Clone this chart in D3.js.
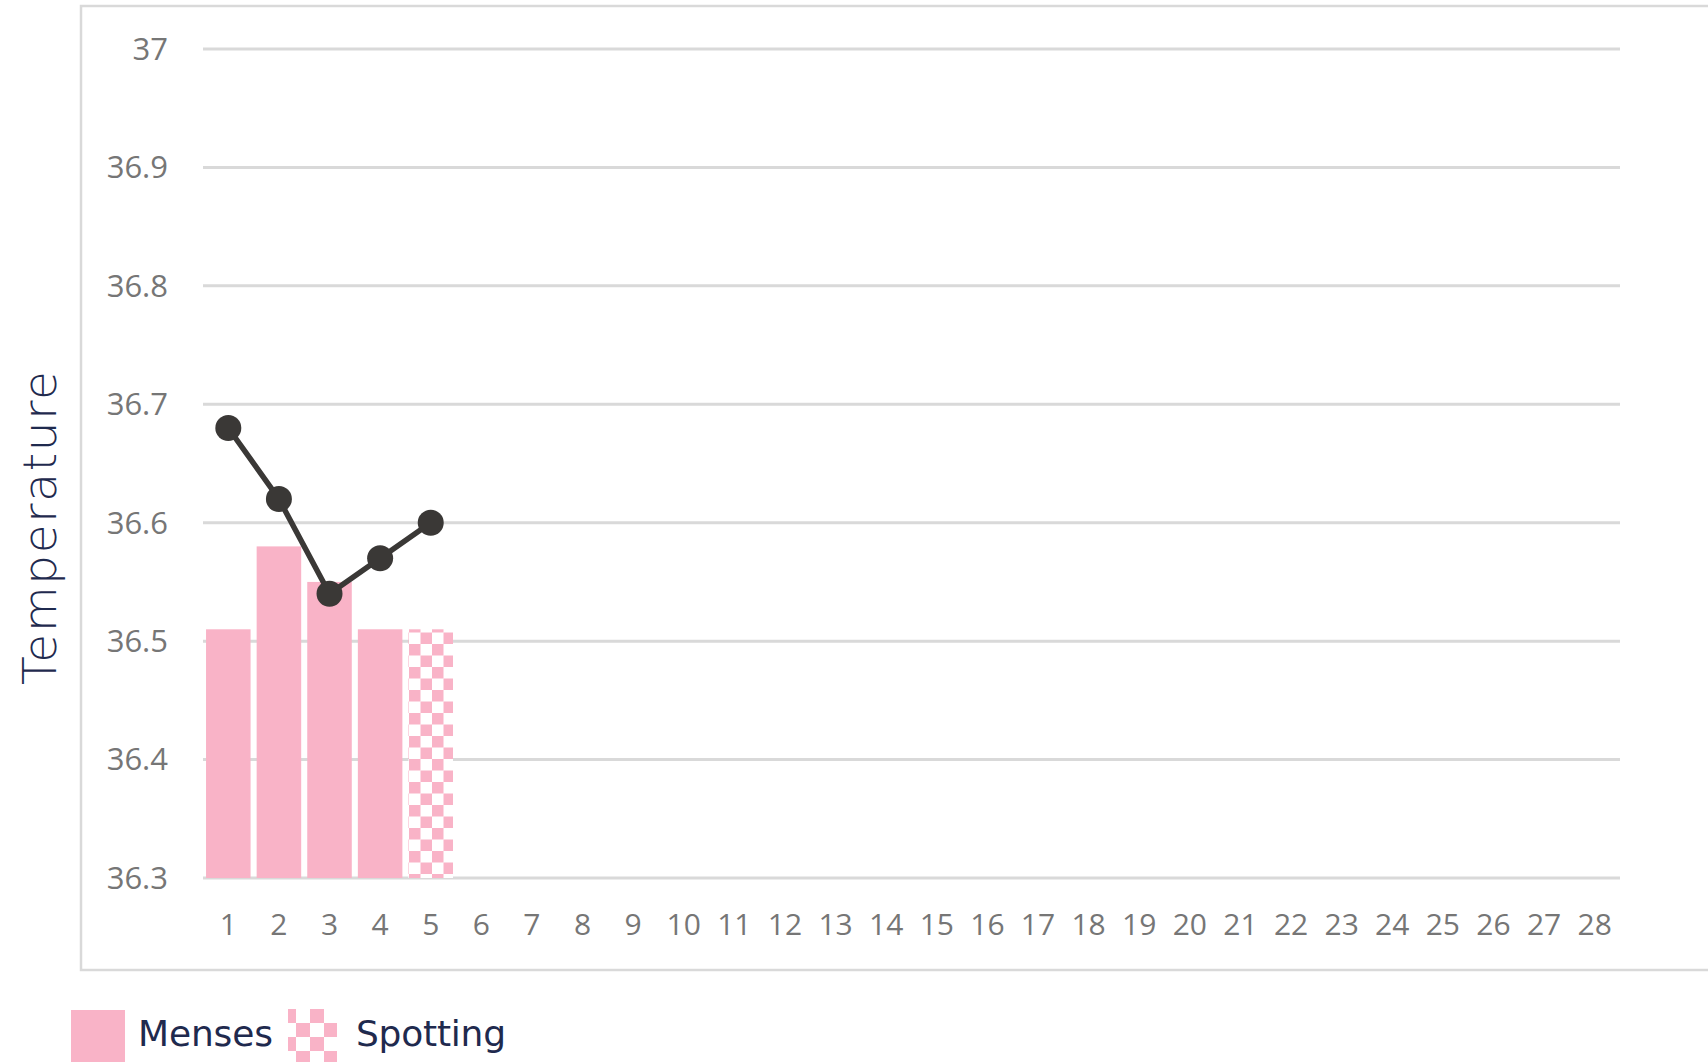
<!DOCTYPE html>
<html>
<head>
<meta charset="utf-8">
<script src="https://cdn.jsdelivr.net/npm/d3@7"></script>
<style>
body { margin: 0; background: #ffffff; }
svg { display: block; }
</style>
</head>
<body>
<svg id="chart" width="1708" height="1062"></svg>
<script>
// data
var days = d3.range(1, 29);
var mensesDays = [1, 2, 3, 4];
var mensesValues = [36.51, 36.58, 36.55, 36.51];
var spottingDays = [5];
var spottingValues = [36.51];
var tempDays = [1, 2, 3, 4, 5];
var tempValues = [36.68, 36.62, 36.54, 36.57, 36.60];
var yTicks = [36.3, 36.4, 36.5, 36.6, 36.7, 36.8, 36.9, 37];

var pink = "#f9b3c7";
var lineColor = "#3a3836";
var gridColor = "#d9d9d9";
var labelColor = "#767676";
var navy = "#1f2a4e";

var svg = d3.select("#chart");

// checkerboard pattern
var defs = svg.append("defs");
var pat = defs.append("pattern").attr("id", "checker").attr("patternUnits", "userSpaceOnUse")
  .attr("width", 23).attr("height", 23).attr("x", 409).attr("y", 0);
pat.append("rect").attr("width", 23).attr("height", 23).attr("fill", "#ffffff");
pat.append("rect").attr("x", 0).attr("y", 0).attr("width", 11.5).attr("height", 11.5).attr("fill", pink);
pat.append("rect").attr("x", 11.5).attr("y", 11.5).attr("width", 11.5).attr("height", 11.5).attr("fill", pink);

var pat2 = defs.append("pattern").attr("id", "checker2").attr("patternUnits", "userSpaceOnUse")
  .attr("width", 28).attr("height", 28).attr("x", 282).attr("y", 1009);
pat2.append("rect").attr("width", 28).attr("height", 28).attr("fill", "#ffffff");
pat2.append("rect").attr("x", 0).attr("y", 0).attr("width", 14).attr("height", 14).attr("fill", pink);
pat2.append("rect").attr("x", 14).attr("y", 14).attr("width", 14).attr("height", 14).attr("fill", pink);

// frame
svg.append("rect").attr("x", 81).attr("y", 6).attr("width", 1700).attr("height", 964)
  .attr("fill", "none").attr("stroke", gridColor).attr("stroke-width", 2.5);

// scales
var x = d3.scaleBand().domain(days).range([203, 1620]).paddingInner(0.12).paddingOuter(0.06);
var y = d3.scaleLinear().domain([36.3, 37]).range([878, 49]);

// grid
svg.append("g").selectAll("line").data(yTicks).join("line")
  .attr("x1", 203).attr("x2", 1620)
  .attr("y1", function(d) { return y(d); }).attr("y2", function(d) { return y(d); })
  .attr("stroke", gridColor).attr("stroke-width", 3);

// y labels
svg.append("g").selectAll("text").data(yTicks).join("text")
  .attr("x", 168).attr("y", function(d) { return y(d); })
  .attr("dy", "0.35em").attr("text-anchor", "end")
  .style("font-family", "'Open Sans', sans-serif").style("font-size", "31px").style("fill", labelColor)
  .text(function(d) { return d3.format("")(+d.toFixed(1)); });

// x labels
svg.append("g").selectAll("text").data(days).join("text")
  .attr("x", function(d) { return x(d) + x.bandwidth() / 2; }).attr("y", 924)
  .attr("dy", "0.35em").attr("text-anchor", "middle")
  .style("font-family", "'Open Sans', sans-serif").style("font-size", "30px").style("fill", labelColor)
  .text(function(d) { return d; });

// menses bars
svg.append("g").selectAll("rect").data(mensesDays).join("rect")
  .attr("x", function(d) { return x(d); }).attr("width", x.bandwidth())
  .attr("y", function(d, i) { return y(mensesValues[i]); })
  .attr("height", function(d, i) { return y(36.3) - y(mensesValues[i]); })
  .attr("fill", pink);

// spotting bars
svg.append("g").selectAll("rect").data(spottingDays).join("rect")
  .attr("x", function(d) { return x(d); }).attr("width", x.bandwidth())
  .attr("y", function(d, i) { return y(spottingValues[i]); })
  .attr("height", function(d, i) { return y(36.3) - y(spottingValues[i]); })
  .attr("fill", "url(#checker)");

// temperature line
var line = d3.line()
  .x(function(d, i) { return x(tempDays[i]) + x.bandwidth() / 2; })
  .y(function(d) { return y(d); });
svg.append("path").datum(tempValues).attr("d", line)
  .attr("fill", "none").attr("stroke", lineColor).attr("stroke-width", 5.5);
svg.append("g").selectAll("circle").data(tempValues).join("circle")
  .attr("cx", function(d, i) { return x(tempDays[i]) + x.bandwidth() / 2; })
  .attr("cy", function(d) { return y(d); })
  .attr("r", 13).attr("fill", lineColor);

// y title
svg.append("text").attr("transform", "translate(56,528) rotate(-90)")
  .attr("text-anchor", "middle")
  .attr("textLength", 314).attr("lengthAdjust", "spacing")
  .style("font-family", "'DejaVu Sans', sans-serif").style("font-size", "47px").style("font-weight", 300).style("fill", navy)
  .text("Temperature");

// legend
svg.append("rect").attr("x", 71).attr("y", 1010).attr("width", 54).attr("height", 60).attr("fill", pink);
svg.append("text").attr("x", 138).attr("y", 1046)
  .attr("textLength", 135).attr("lengthAdjust", "spacing")
  .style("font-family", "'DejaVu Sans', sans-serif").style("font-size", "36px").style("fill", navy)
  .text("Menses");
svg.append("rect").attr("x", 288).attr("y", 1009).attr("width", 49).attr("height", 60).attr("fill", "url(#checker2)");
svg.append("text").attr("x", 356).attr("y", 1046)
  .attr("textLength", 150).attr("lengthAdjust", "spacing")
  .style("font-family", "'DejaVu Sans', sans-serif").style("font-size", "36px").style("fill", navy)
  .text("Spotting");
</script>
</body>
</html>
